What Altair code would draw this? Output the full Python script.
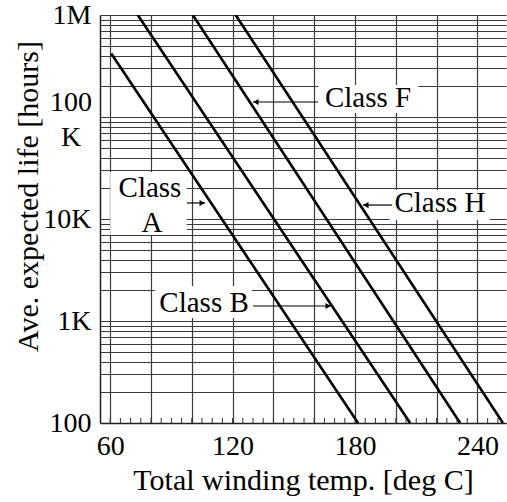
import altair as alt
import pandas as pd

# ---- data ----
classes = ["Class A", "Class B", "Class F", "Class H"]
line_temps = [[60.5, 181.5], [73.5, 207.0], [100.5, 231.5], [121.5, 252.5]]
line_hours = [[420000, 100], [1000000, 100], [1000000, 100], [1000000, 100]]

x_grid = [60, 80, 100, 120, 140, 160, 180, 200, 220, 240]
x_minor = [60, 65, 70, 75, 80, 85, 90, 95, 100, 105, 110, 115, 120, 125, 130, 135,
           140, 145, 150, 155, 160, 165, 170, 175, 180, 185, 190, 195, 200, 205,
           210, 215, 220, 225, 230, 235, 240, 245, 250]
y_grid = [m * 10 ** e for e in range(2, 6) for m in range(1, 10)] + [1000000]

# two-line tick label for 100K
k_text = ["100", "K"]
k_hours = [137000, 62200]

label_text = ["Class", "A", "Class B", "Class F", "Class H"]
label_temp = [79.5, 80.5, 106.0, 186.4, 221.6]
label_hours = [20140, 9140, 1500, 153500, 14360]

box_t1 = [60.0, 82.0, 162.0, 197.0]
box_t2 = [97.5, 129.5, 211.0, 246.0]
box_h1 = [6970, 1070, 109500, 9770]
box_h2 = [28900, 2200, 206000, 19230]

arrow_start = [97.6, 130.0, 161.9, 198.1]
arrow_tip = [106.5, 168.2, 130.0, 183.9]
arrow_hours = [14360, 1403, 140300, 13700]

FONT = "Liberation Serif"

# ---- tables ----
lines_df = pd.DataFrame(
    [{"cls": c, "temp": t, "hours": h}
     for c, ts, hs in zip(classes, line_temps, line_hours)
     for t, h in zip(ts, hs)]
)
minor_df = pd.DataFrame({"temp": x_minor})
k_df = pd.DataFrame({"text": k_text, "hours": k_hours})
labels_df = pd.DataFrame({"text": label_text, "temp": label_temp, "hours": label_hours})
boxes_df = pd.DataFrame({"t1": box_t1, "t2": box_t2, "h1": box_h1, "h2": box_h2})
arrows_df = pd.DataFrame(
    [{"cls": c, "temp": t, "hours": h}
     for c, s, e, h in zip(classes, arrow_start, arrow_tip, arrow_hours)
     for t in (s, e)]
)
heads_df = pd.DataFrame({
    "temp": [e - 1.4 if e > s else e + 1.4 for s, e in zip(arrow_start, arrow_tip)],
    "hours": arrow_hours,
    "shape": ["triangle-right" if e > s else "triangle-left" for s, e in zip(arrow_start, arrow_tip)],
})

xs = alt.Scale(domain=[55, 254], nice=False, zero=False)
ys = alt.Scale(type="log", domain=[100, 1000000], nice=False)

GRID = "#3a3a3a"

x_axis = alt.Axis(
    values=x_grid,
    labelExpr="datum.value % 60 == 0 ? datum.label : ''",
    grid=True, gridColor=GRID, gridWidth=1.2, gridOpacity=1,
    ticks=False,
    domain=True, domainColor="#222", domainWidth=1.5,
    labelFont=FONT, labelFontSize=28, labelColor="black", labelPadding=9,
    labelFlush=False, labelOverlap=False,
    title="Total winding temp. [deg C]", titleFont=FONT, titleFontSize=30,
    titleFontWeight="normal", titleColor="black",
    titleX=203, titleY=57, titleAlign="center", titleBaseline="middle",
)
y_axis = alt.Axis(
    values=y_grid,
    labelExpr=("datum.value == 1000000 ? '1M' : "
               "datum.value == 10000 ? '10K' : datum.value == 1000 ? '1K' : "
               "datum.value == 100 ? '100' : ''"),
    grid=True, gridColor=GRID, gridWidth=1.2, gridOpacity=1,
    ticks=False,
    domain=True, domainColor="#222", domainWidth=1.5,
    labelFont=FONT, labelFontSize=28, labelColor="black", labelPadding=9,
    labelFlush=False, labelOverlap=False,
    title="Ave. expected life [hours]", titleFont=FONT, titleFontSize=30,
    titleFontWeight="normal", titleColor="black", titleAngle=270,
    titleX=-72, titleY=181, titleAlign="center", titleBaseline="middle",
)

X = lambda f: alt.X(f, scale=xs, axis=x_axis)
Y = lambda f: alt.Y(f, scale=ys, axis=y_axis)

base_lines = alt.Chart(lines_df).mark_line(color="black", strokeWidth=2.6, clip=True).encode(
    x=X("temp:Q"), y=Y("hours:Q"), detail="cls:N",
)

boxes = alt.Chart(boxes_df).mark_rect(fill="white", strokeWidth=0).encode(
    x=X("t1:Q"), x2="t2:Q", y=Y("h1:Q"), y2="h2:Q",
)

minor = alt.Chart(minor_df).mark_rule(color="#333", strokeWidth=1).encode(
    x=X("temp:Q"), y=alt.value(403), y2=alt.value(408),
)

arrows = alt.Chart(arrows_df).mark_line(color="black", strokeWidth=1.2).encode(
    x=X("temp:Q"), y=Y("hours:Q"), detail="cls:N",
)

heads = alt.Chart(heads_df).mark_point(filled=True, color="black", size=38, opacity=1).encode(
    x=X("temp:Q"), y=Y("hours:Q"),
    shape=alt.Shape("shape:N", scale=None, legend=None),
)

texts = alt.Chart(labels_df).mark_text(font=FONT, fontSize=29, color="black",
                                        align="center", baseline="middle").encode(
    x=X("temp:Q"), y=Y("hours:Q"), text="text:N",
)

k_label = alt.Chart(k_df).mark_text(font=FONT, fontSize=28, color="black",
                                     align="center", baseline="middle").encode(
    x=alt.value(-29), y=Y("hours:Q"), text="text:N",
)

chart = alt.layer(base_lines, boxes, minor, arrows, heads, texts, k_label).properties(
    width=406, height=408,
    autosize=alt.AutoSizeParams(type="none"),
    padding={"left": 100, "top": 15, "right": 1, "bottom": 79},
    background="white",
).configure_view(stroke=None)

chart.save("out.html", embed_options={"renderer": "svg", "actions": False})
